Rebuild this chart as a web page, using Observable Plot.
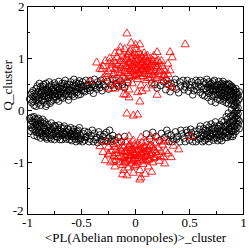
<!DOCTYPE html>
<html>
<head>
<meta charset="utf-8">
<script src="https://cdn.jsdelivr.net/npm/d3@7"></script>
<script src="https://cdn.jsdelivr.net/npm/@observablehq/plot@0.6"></script>
<style>
  html, body { margin: 0; padding: 0; background: white; }
</style>
</head>
<body>
<div id="chart"></div>
<script>
// Black circles: upper band
const blackUpper = [
[-0.98,0.22],[-0.97,0.31],[-0.96,0.15],[-0.95,0.38],[-0.95,0.26],[-0.94,0.1],[-0.93,0.33],[-0.92,0.2],[-0.92,0.42],[-0.91,0.28],[-0.9,0.36],[-0.9,0.14],[-0.89,0.24],[-0.88,0.45],[-0.88,0.31],[-0.87,0.19],[-0.86,0.38],[-0.86,0.27],[-0.85,0.5],[-0.84,0.33],[-0.84,0.22],[-0.83,0.41],[-0.82,0.29],[-0.82,0.12],[-0.81,0.36],[-0.8,0.46],[-0.8,0.25],[-0.79,0.34],[-0.78,0.4],[-0.78,0.18],[-0.77,0.3],[-0.76,0.44],[-0.76,0.36],[-0.75,0.27],[-0.74,0.49],[-0.74,0.33],[-0.73,0.21],[-0.72,0.39],[-0.72,0.44],[-0.71,0.3],[-0.7,0.36],[-0.69,0.47],[-0.69,0.25],[-0.68,0.41],[-0.67,0.33],[-0.66,0.52],[-0.66,0.38],[-0.65,0.29],[-0.64,0.45],[-0.63,0.36],[-0.62,0.41],[-0.62,0.2],[-0.61,0.5],[-0.6,0.33],[-0.59,0.44],[-0.58,0.38],[-0.57,0.27],[-0.56,0.47],[-0.55,0.41],[-0.54,0.35],[-0.53,0.52],[-0.52,0.43],[-0.51,0.31],[-0.5,0.39],
[-0.48,0.46],[-0.47,0.36],[-0.45,0.42],[-0.44,0.5],[-0.42,0.38],[-0.41,0.45],[-0.39,0.33],[-0.38,0.48],[-0.36,0.41],[-0.35,0.55],[-0.33,0.44],[-0.31,0.38],[-0.3,0.5],[-0.28,0.45],[-0.26,0.56],[-0.25,0.41],[-0.23,0.49],[-0.21,0.6],[-0.2,0.44],[-0.18,0.52],[-0.16,0.47],[-0.14,0.57],[-0.12,0.5],[-0.1,0.44],[-0.07,0.54],[0.15,0.53],[0.18,0.5],[0.2,0.43],
[0.23,0.48],[0.26,0.55],[0.28,0.4],[0.3,0.5],[0.32,0.36],[0.34,0.45],[0.36,0.53],[0.38,0.41],[0.4,0.34],[0.42,0.47],[0.45,0.4],[0.47,0.51],[0.49,0.37],[0.51,0.44],[0.53,0.3],[0.55,0.48],[0.57,0.4],[0.58,0.54],[0.6,0.35],[0.61,0.46],[0.63,0.41],[0.64,0.28],[0.65,0.52],
[0.66,0.38],[0.67,0.45],[0.68,0.33],[0.69,0.5],[0.7,0.42],[0.71,0.27],[0.72,0.37],[0.72,0.55],[0.73,0.46],[0.74,0.31],[0.75,0.4],[0.76,0.5],[0.76,0.22],[0.77,0.35],[0.78,0.44],[0.79,0.29],[0.8,0.52],[0.8,0.38],[0.81,0.18],[0.82,0.46],[0.82,0.32],[0.83,0.4],[0.84,0.25],[0.85,0.49],[0.85,0.35],[0.86,0.13],[0.87,0.42],[0.87,0.28],[0.88,0.37],[0.89,0.2],[0.89,0.47],[0.9,0.32],[0.91,0.4],[0.91,0.09],[0.92,0.25],[0.93,0.35],[0.93,0.16],[0.94,0.28],[0.95,0.05],[0.95,0.2]
];
const blackUpperExtra = [
[-0.96,0.34],[-0.95,0.18],[-0.93,0.27],[-0.92,0.08],[-0.91,0.47],[-0.9,0.22],[-0.89,0.52],[-0.88,0.1],[-0.87,0.36],[-0.86,0.46],[-0.85,0.16],[-0.85,0.4],[-0.84,0.28],[-0.83,0.52],[-0.83,0.08],[-0.82,0.38],[-0.81,0.24],[-0.8,0.55],[-0.8,0.31],[-0.79,0.14],[-0.78,0.49],[-0.77,0.4],[-0.76,0.2],[-0.75,0.53],[-0.75,0.36],[-0.74,0.26],[-0.73,0.45],[-0.72,0.3],[-0.71,0.56],[-0.71,0.18],[-0.7,0.42],[-0.69,0.33],[-0.68,0.52],[-0.67,0.24],[-0.66,0.44],[-0.65,0.58],[-0.64,0.32],[-0.63,0.5],[-0.62,0.27],[-0.61,0.4],[-0.6,0.55],[-0.59,0.3],[-0.58,0.48],[-0.57,0.6],[-0.56,0.36],[-0.55,0.53],[-0.54,0.44],[-0.53,0.3],[-0.52,0.57],[-0.51,0.5],[-0.5,0.45],[-0.49,0.55],[-0.48,0.38],[-0.46,0.58],[-0.45,0.48],[-0.43,0.43],[-0.42,0.57],[-0.4,0.5],[-0.38,0.6],[-0.37,0.45],[-0.34,0.5],[-0.32,0.58],
[0.29,0.58],[0.33,0.52],[0.37,0.6],[0.41,0.55],[0.44,0.58],[0.46,0.45],[0.48,0.58],[0.5,0.5],
[0.52,0.55],[0.54,0.38],[0.56,0.58],[0.58,0.45],[0.6,0.58],[0.62,0.3],[0.63,0.55],[0.65,0.42],[0.66,0.6],[0.67,0.25],[0.68,0.55],[0.69,0.4],[0.7,0.52],[0.7,0.18],[0.71,0.47],[0.72,0.3],[0.73,0.58],[0.74,0.4],[0.74,0.15],[0.75,0.48],[0.76,0.3],[0.77,0.56],[0.77,0.42],[0.78,0.2],[0.78,0.35],[0.79,0.5],[0.8,0.27],[0.8,0.45],[0.81,0.56],[0.81,0.35],[0.82,0.22],[0.83,0.5],[0.83,0.3],[0.84,0.43],[0.84,0.15],[0.85,0.28],[0.86,0.52],[0.86,0.4],[0.87,0.2],[0.87,0.5],[0.88,0.3],[0.88,0.45],[0.89,0.12],[0.89,0.36],[0.9,0.25],[0.9,0.44],[0.91,0.3],[0.91,0.18],[0.92,0.38],[0.92,0.1],[0.93,0.42],[0.93,0.24],[0.94,0.34],[0.94,0.14],[0.95,0.3],[0.96,0.22],[0.96,0.36]
];
// Black circles: lower band
const blackLower = [
[-0.98,-0.15],[-0.97,-0.27],[-0.96,-0.2],[-0.95,-0.36],[-0.94,-0.12],[-0.94,-0.3],[-0.93,-0.23],[-0.92,-0.42],[-0.91,-0.18],[-0.91,-0.33],[-0.9,-0.26],[-0.89,-0.45],[-0.89,-0.38],[-0.88,-0.2],[-0.87,-0.3],[-0.86,-0.48],[-0.86,-0.4],[-0.85,-0.25],[-0.84,-0.35],[-0.83,-0.44],[-0.83,-0.52],[-0.82,-0.3],[-0.81,-0.39],[-0.8,-0.47],[-0.79,-0.33],[-0.78,-0.42],[-0.78,-0.55],[-0.77,-0.37],[-0.76,-0.46],[-0.75,-0.29],[-0.74,-0.41],[-0.73,-0.5],[-0.72,-0.36],[-0.71,-0.44],[-0.7,-0.56],[-0.69,-0.4],[-0.68,-0.48],[-0.67,-0.34],[-0.66,-0.45],[-0.65,-0.52],[-0.64,-0.41],[-0.63,-0.48],[-0.62,-0.37],[-0.61,-0.56],[-0.6,-0.45],[-0.59,-0.5],[-0.58,-0.4],[-0.57,-0.47],[-0.56,-0.55],[-0.55,-0.44],[-0.54,-0.5],[-0.53,-0.38],[-0.52,-0.58],[-0.51,-0.47],[-0.5,-0.53],
[-0.48,-0.45],[-0.47,-0.57],[-0.45,-0.5],[-0.44,-0.42],[-0.42,-0.55],[-0.41,-0.48],[-0.39,-0.6],[-0.38,-0.44],[-0.36,-0.52],[-0.35,-0.62],[-0.33,-0.47],[-0.32,-0.56],[-0.3,-0.5],[-0.28,-0.58],[-0.27,-0.42],[-0.25,-0.53],[-0.23,-0.6],[-0.21,-0.48],[-0.19,-0.57],[-0.16,-0.52],[-0.13,-0.6],[-0.1,-0.5],[0.1,-0.45],[0.13,-0.55],[0.16,-0.42],[0.19,-0.5],[0.22,-0.58],[0.24,-0.44],[0.27,-0.52],[0.29,-0.38],[0.31,-0.6],[0.33,-0.47],[0.35,-0.55],[0.37,-0.41],[0.39,-0.5],[0.41,-0.6],[0.43,-0.45],[0.45,-0.53],[0.47,-0.38],[0.49,-0.48],[0.5,-0.57],[0.52,-0.43],[0.54,-0.51],[0.56,-0.6],[0.57,-0.46],[0.59,-0.36],[0.6,-0.54],
[0.62,-0.42],[0.63,-0.5],[0.64,-0.58],[0.65,-0.38],[0.66,-0.47],[0.67,-0.54],[0.68,-0.32],[0.69,-0.43],[0.7,-0.5],[0.71,-0.37],[0.72,-0.57],[0.72,-0.45],[0.73,-0.3],[0.74,-0.4],[0.75,-0.52],[0.76,-0.35],[0.77,-0.46],[0.78,-0.27],[0.78,-0.55],[0.79,-0.41],[0.8,-0.33],[0.81,-0.48],[0.82,-0.22],[0.82,-0.38],[0.83,-0.44],[0.84,-0.3],[0.85,-0.52],[0.85,-0.17],[0.86,-0.36],[0.87,-0.25],[0.87,-0.45],[0.88,-0.11],[0.88,-0.32],[0.89,-0.4],[0.9,-0.2],[0.9,-0.5],[0.91,-0.06],[0.91,-0.28],[0.92,-0.36],[0.92,-0.15],[0.93,-0.02],[0.93,-0.24],[0.94,-0.1],[0.94,-0.32],[0.95,-0.18]
];
const blackLowerExtra = [
[-0.97,-0.4],[-0.96,-0.13],[-0.96,-0.33],[-0.95,-0.22],[-0.94,-0.48],[-0.93,-0.16],[-0.93,-0.38],[-0.92,-0.28],[-0.91,-0.5],[-0.9,-0.15],[-0.9,-0.42],[-0.89,-0.3],[-0.88,-0.53],[-0.88,-0.24],[-0.87,-0.44],[-0.86,-0.17],[-0.85,-0.5],[-0.85,-0.33],[-0.84,-0.22],[-0.83,-0.4],[-0.82,-0.55],[-0.81,-0.27],[-0.8,-0.38],[-0.79,-0.52],[-0.78,-0.24],[-0.77,-0.48],[-0.76,-0.32],[-0.75,-0.56],[-0.74,-0.3],[-0.73,-0.44],[-0.72,-0.52],[-0.71,-0.28],[-0.7,-0.47],[-0.69,-0.33],[-0.68,-0.56],[-0.67,-0.42],[-0.66,-0.3],[-0.65,-0.46],[-0.64,-0.55],[-0.63,-0.35],[-0.62,-0.5],[-0.61,-0.42],[-0.6,-0.33],[-0.59,-0.58],[-0.58,-0.5],[-0.57,-0.36],[-0.56,-0.46],[-0.55,-0.6],[-0.54,-0.4],[-0.53,-0.55],[-0.52,-0.33],[-0.51,-0.55],[-0.49,-0.6],[-0.47,-0.4],[-0.46,-0.52],[-0.43,-0.6],[-0.4,-0.38],[-0.37,-0.56],[-0.34,-0.41],[-0.31,-0.6],[-0.29,-0.46],[-0.26,-0.6],[-0.24,-0.38],[-0.22,-0.55],
[0.3,-0.45],[0.34,-0.6],[0.38,-0.55],[0.42,-0.38],[0.46,-0.6],[0.48,-0.42],
[0.51,-0.36],[0.53,-0.6],[0.55,-0.4],[0.58,-0.55],[0.6,-0.3],[0.61,-0.48],[0.62,-0.6],[0.63,-0.35],[0.64,-0.45],[0.65,-0.55],[0.66,-0.28],[0.67,-0.4],[0.68,-0.6],[0.69,-0.5],[0.7,-0.26],[0.71,-0.45],[0.72,-0.35],[0.73,-0.53],[0.74,-0.22],[0.75,-0.44],[0.76,-0.58],[0.77,-0.3],[0.78,-0.4],[0.79,-0.5],[0.8,-0.2],[0.8,-0.58],[0.81,-0.4],[0.82,-0.3],[0.83,-0.52],[0.84,-0.12],[0.84,-0.42],[0.85,-0.27],[0.86,-0.48],[0.86,-0.05],[0.87,-0.35],[0.88,-0.22],[0.88,-0.5],[0.89,-0.3],[0.89,0.02],[0.9,-0.4],[0.9,-0.1],[0.91,-0.46],[0.91,-0.2],[0.92,-0.05],[0.92,-0.3],[0.93,0.06],[0.93,-0.4],[0.94,-0.15],[0.94,0.0],[0.95,-0.26],[0.95,-0.06],[0.96,-0.2],[0.96,-0.35]
];
// Red triangles: upper cluster
const redUpper = [
[-0.42,0.56],[-0.36,0.92],[-0.33,0.8],[-0.31,0.79],[-0.27,0.63],[-0.25,0.42],[-0.24,0.92],[-0.19,1.1],[-0.14,1.21],[-0.08,1.48],[-0.04,1.3],[0.0,1.26],[0.04,1.27],[0.46,1.27],[0.2,1.12],[0.32,1.12],[0.21,0.96],[0.3,0.9],[0.34,1.02],[0.32,0.77],[0.27,0.67],[0.34,0.44],[-0.11,0.31],[0.06,0.37],[-0.19,0.42],[0.04,0.17],
[-0.3,0.85],[-0.28,0.95],[-0.25,0.75],[-0.24,1.0],[-0.22,0.88],[-0.21,0.68],[-0.2,0.95],[-0.19,0.8],[-0.18,0.6],[-0.17,1.02],[-0.16,0.87],[-0.15,0.73],[-0.15,1.13],[-0.14,0.95],[-0.13,0.82],[-0.12,0.65],[-0.12,1.05],[-0.11,0.9],[-0.1,0.76],[-0.1,1.18],[-0.09,0.98],[-0.08,0.85],[-0.08,0.58],[-0.07,1.08],[-0.07,0.72],[-0.06,0.92],[-0.05,0.8],[-0.05,1.15],[-0.04,0.66],[-0.04,1.0],[-0.03,0.87],[-0.03,0.52],[-0.02,0.94],[-0.02,0.75],[-0.01,1.1],[-0.01,0.83],[0.0,0.68],[0.0,0.97],[0.01,0.78],[0.01,1.05],[0.02,0.9],[0.02,0.6],[0.03,0.84],[0.03,1.12],[0.04,0.72],[0.04,0.97],[0.05,0.88],[0.05,0.48],[0.06,0.8],[0.06,1.02],[0.07,0.66],[0.07,0.93],[0.08,0.85],[0.08,1.1],[0.09,0.75],[0.09,0.98],[0.1,0.58],[0.1,0.88],[0.11,0.8],[0.11,1.05],[0.12,0.7],[0.12,0.93],[0.13,0.84],[0.14,0.62],[0.14,1.0],[0.15,0.77],[0.15,0.9],[0.16,0.68],[0.17,0.85],[0.17,1.05],[0.18,0.74],[0.19,0.93],[0.2,0.62],[0.2,0.82],[0.21,0.7],[0.22,0.9],[0.23,0.78],[0.24,0.57],[0.25,0.85],[0.26,0.68],[0.27,0.76],[0.28,0.62],[0.3,0.7],[0.31,0.5],[-0.22,0.55],[-0.27,0.7],[-0.3,0.62],[-0.12,0.45],[-0.06,0.4],[0.02,0.35],[0.1,0.42],[0.16,0.48],[-0.18,0.48],[0.2,0.3],[-0.09,0.3],[-0.06,0.25],
[-0.13,0.72],[-0.11,0.98],[-0.1,0.62],[-0.09,0.85],[-0.08,1.02],[-0.07,0.8],[-0.06,0.67],[-0.06,1.12],[-0.05,0.9],[-0.04,0.76],[-0.03,1.05],[-0.02,0.65],[-0.01,0.92],[0.0,0.8],[0.0,1.18],[0.01,0.7],[0.02,0.98],[0.03,0.75],[0.04,0.88],[0.05,1.07],[0.05,0.65],[0.06,0.92],[0.07,0.78],[0.08,0.7],[0.09,1.03],[0.1,0.82],[0.11,0.94],[0.12,0.62],[0.13,0.76],[0.14,0.88],[0.16,0.96],[0.18,0.65],[0.19,0.85],[0.22,0.75],[0.24,0.95],[-0.16,0.78],[-0.18,0.9],[-0.2,0.72],[-0.23,0.8],[-0.14,0.58]
];
// Red triangles: lower cluster
const redLower = [
[-0.08,-0.06],[-0.02,-0.1],[0.02,-0.08],
[-0.33,-0.69],[-0.28,-0.96],[-0.25,-0.83],[-0.2,-0.65],[-0.19,-1.08],[-0.12,-1.23],[0.05,-1.29],[0.27,-1.02],[0.4,-0.75],[0.2,-0.52],[0.26,-0.6],[0.51,-0.5],[-0.11,-1.15],[0.3,-0.83],[0.33,-0.9],[0.04,-1.33],
[-0.22,-0.78],[-0.2,-0.88],[-0.19,-0.7],[-0.18,-0.95],[-0.17,-0.82],[-0.16,-0.62],[-0.15,-1.0],[-0.14,-0.75],[-0.13,-0.88],[-0.12,-0.68],[-0.12,-1.05],[-0.11,-0.92],[-0.1,-0.8],[-0.09,-0.6],[-0.09,-0.98],[-0.08,-0.86],[-0.07,-0.72],[-0.07,-1.1],[-0.06,-0.93],[-0.05,-0.8],[-0.05,-0.65],[-0.04,-1.02],[-0.04,-0.88],[-0.03,-0.76],[-0.02,-0.95],[-0.02,-0.58],[-0.01,-0.84],[-0.01,-1.08],[0.0,-0.7],[0.0,-0.92],[0.01,-0.8],[0.02,-1.0],[0.02,-0.66],[0.03,-0.88],[0.04,-0.76],[0.04,-1.15],[0.05,-0.95],[0.06,-0.83],[0.06,-0.62],[0.07,-1.03],[0.08,-0.9],[0.08,-0.72],[0.09,-0.8],[0.1,-0.98],[0.1,-0.6],[0.11,-0.86],[0.12,-0.74],[0.12,-1.08],[0.13,-0.93],[0.14,-0.67],[0.15,-0.82],[0.16,-1.0],[0.17,-0.76],[0.18,-0.9],[0.19,-0.62],[0.2,-0.85],[0.21,-0.72],[0.22,-0.97],[0.24,-0.8],[0.25,-0.66],[0.26,-0.9],[0.28,-0.78],[-0.25,-0.85],[-0.27,-0.6],[-0.23,-1.0],[-0.3,-0.8],[0.35,-0.68],[0.15,-1.18],[-0.02,-1.2],[0.09,-1.22],[-0.06,-0.5],[0.05,-0.52],[-0.15,-0.52],[0.14,-0.5],[0.28,-0.58],[-0.08,-1.25],
[-0.13,-0.78],[-0.11,-0.72],[-0.1,-0.9],[-0.08,-0.78],[-0.07,-0.95],[-0.06,-0.68],[-0.05,-0.87],[-0.04,-0.72],[-0.03,-0.98],[-0.02,-0.82],[-0.01,-0.66],[0.0,-0.86],[0.01,-0.98],[0.02,-0.75],[0.03,-0.92],[0.04,-0.68],[0.05,-0.84],[0.06,-0.74],[0.07,-0.95],[0.08,-0.8],[0.09,-0.7],[0.1,-0.88],[0.11,-0.78],[0.12,-0.95],[0.13,-0.68],[0.14,-0.85],[0.16,-0.7],[0.17,-0.92],[0.19,-0.8],[-0.16,-0.9],[-0.18,-0.76],[-0.2,-0.98],[0.23,-0.88],[-0.1,-1.0],[0.0,-1.05],[-0.25,-0.7]
];

const xMajor = [-1, -0.5, 0, 0.5, 1];
const xMinor = [-0.75, -0.25, 0.25, 0.75];
const yMajor = [-2, -1, 0, 1, 2];
const yMinor = [-1.5, -0.5, 0.5, 1.5];
const xTickLabels = ["-1", "-0.5", "0", "0.5", "1"];
const yTickLabels = ["-2", "-1", "0", "1", "2"];
const xLabel = "<PL(Abelian monopoles)>_cluster";
const yLabel = "Q_cluster";

const W = 249, H = 249;
const mL = 27, mR = 6, mT = 6, mB = 35;
const fw = W - mL - mR, fh = H - mT - mB;
const majorLen = 5, minorLen = 3;
const xLab = new Map(xMajor.map((v, i) => [v, xTickLabels[i]]));
const yLab = new Map(yMajor.map((v, i) => [v, yTickLabels[i]]));

const black = blackUpper.concat(blackUpperExtra, blackLower, blackLowerExtra);
const red = redUpper.concat(redLower);
const yBottom = yMajor.slice(0, 1);
const yRest = yMajor.slice(1);

const chart = Plot.plot({
  width: W, height: H,
  marginLeft: mL, marginRight: mR, marginTop: mT, marginBottom: mB,
  x: {domain: [-1, 1]},
  y: {domain: [-2, 2]},
  style: {fontFamily: "Liberation Serif", fontSize: "13px", background: "white", color: "black"},
  marks: [
    Plot.dot(black, {x: d => d[0], y: d => d[1], r: 3.3, stroke: "black", fill: "none", strokeWidth: 0.85}),
    Plot.dot(red, {x: d => d[0], y: d => d[1], r: 3, symbol: "triangle", stroke: "red", fill: "none", strokeWidth: 0.85}),
    Plot.tickX(xMajor, {x: d => d, insetTop: fh - majorLen, stroke: "black"}),
    Plot.tickX(xMajor, {x: d => d, insetBottom: fh - majorLen, stroke: "black"}),
    Plot.tickX(xMinor, {x: d => d, insetTop: fh - minorLen, stroke: "black"}),
    Plot.tickX(xMinor, {x: d => d, insetBottom: fh - minorLen, stroke: "black"}),
    Plot.tickY(yMajor, {y: d => d, insetRight: fw - majorLen, stroke: "black"}),
    Plot.tickY(yMajor, {y: d => d, insetLeft: fw - majorLen, stroke: "black"}),
    Plot.tickY(yMinor, {y: d => d, insetRight: fw - minorLen, stroke: "black"}),
    Plot.tickY(yMinor, {y: d => d, insetLeft: fw - minorLen, stroke: "black"}),
    Plot.frame({stroke: "black"}),
    Plot.axisX(xMajor, {tickSize: 0, tickPadding: 3, tickFormat: d => xLab.get(d), label: null, fontSize: 13}),
    Plot.axisY(yRest, {tickSize: 0, tickPadding: 3, tickFormat: d => yLab.get(d), label: null, fontSize: 13}),
    Plot.axisY(yBottom, {tickSize: 0, tickPadding: 4, dy: -4, tickFormat: d => yLab.get(d), label: null, fontSize: 13}),
    Plot.text([xLabel], {text: d => d, frameAnchor: "bottom", dy: 27, fontSize: 13}),
    Plot.text([yLabel], {text: d => d, frameAnchor: "left", dx: -20, rotate: -90, fontSize: 13})
  ]
});
document.getElementById("chart").appendChild(chart);
</script>
</body>
</html>
